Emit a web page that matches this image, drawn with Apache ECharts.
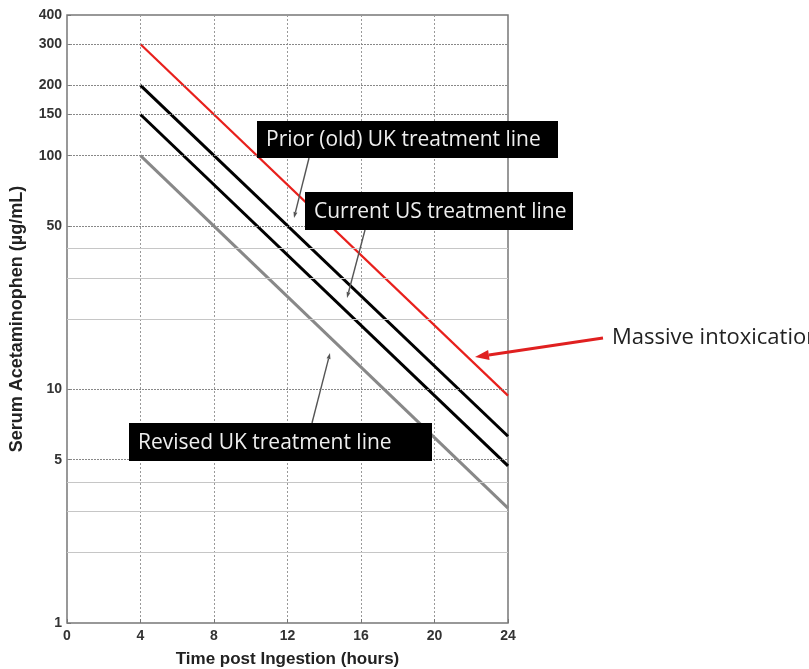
<!DOCTYPE html>
<html>
<head>
<meta charset="utf-8">
<script src="https://cdn.jsdelivr.net/npm/echarts@6/dist/echarts.min.js"></script>
<style>html,body{margin:0;padding:0;background:#fff;}#c{width:809px;height:669px;}</style>
</head>
<body>
<div id="c"></div>
<script>
// ---- data ----
const hours = [4, 24];
const massiveLine = [300, 9.4];
const priorUKLine = [200, 6.3];
const currentUSLine = [150, 4.7];
const revisedUKLine = [100, 3.1];
const yTickLabels = [1, 5, 10, 50, 100, 150, 200, 300, 400];
const minorGridValues = [2, 3, 4, 20, 30, 40];
const xTickLabels = [0, 4, 8, 12, 16, 20, 24];

const chart = echarts.init(document.getElementById('c'), null, {renderer: 'canvas'});

function pts(vals) { return hours.map((h, i) => [h, vals[i]]); }

function arrow(x1, y1, x2, y2, color, width, hl, hw) {
  const dx = x2 - x1, dy = y2 - y1, L = Math.sqrt(dx*dx + dy*dy);
  const ux = dx / L, uy = dy / L, px = -uy, py = ux;
  const bx = x2 - ux * hl, by = y2 - uy * hl;
  return [
    {type: 'line', shape: {x1: x1, y1: y1, x2: bx, y2: by}, style: {stroke: color, lineWidth: width}, z: 20},
    {type: 'polygon', shape: {points: [[x2, y2], [bx + px*hw/2, by + py*hw/2], [bx - px*hw/2, by - py*hw/2]]}, style: {fill: color}, z: 20}
  ];
}

function box(x, y, w, h, text) {
  return [
    {type: 'rect', shape: {x: x, y: y, width: w, height: h}, style: {fill: '#000'}, z: 30},
    {type: 'text', x: x + 9, y: y + h/2 + 1, style: {text: text, fill: '#eeeeee', font: '21px "Open Sans"', textVerticalAlign: 'middle'}, z: 31}
  ];
}

const gridLines = yTickLabels.filter(v => v > 1 && v < 400).map(v => ({
  yAxis: v, lineStyle: {color: '#888', type: [2, 1], width: 1.2}
})).concat(minorGridValues.map(v => ({
  yAxis: v, lineStyle: {color: '#c6c6c6', type: 'solid', width: 1}
})));

const graphics = []
  .concat(arrow(309, 158, 294, 218, '#555', 1.4, 6, 4))
  .concat(arrow(365, 230, 347, 298, '#555', 1.4, 6, 4))
  .concat(arrow(312, 423, 330, 353, '#555', 1.4, 6, 4))
  .concat(arrow(603, 338, 475, 357, '#e02020', 3, 14, 10))
  .concat(box(257, 121, 301, 37, 'Prior (old) UK treatment line'))
  .concat(box(305, 192, 268, 38, 'Current US treatment line'))
  .concat(box(129, 423, 303, 38, 'Revised UK treatment line'))
  .concat([{type: 'text', x: 612, y: 338, style: {text: 'Massive intoxication', fill: '#222', font: '22px "Open Sans"', textVerticalAlign: 'middle'}, z: 30}]);

chart.setOption({
  animation: false,
  backgroundColor: '#fff',
  grid: {left: 67, right: 301, top: 15, bottom: 46, outerBoundsMode: 'none', containLabel: false,
         show: true, borderColor: '#777', borderWidth: 1.5, backgroundColor: 'transparent'},
  xAxis: {
    type: 'value', min: 0, max: 24, interval: 4,
    name: 'Time post Ingestion (hours)', nameLocation: 'middle', nameGap: 28,
    nameTextStyle: {fontFamily: 'Liberation Sans', fontWeight: 'bold', fontSize: 17, color: '#222'},
    axisLine: {show: false},
    axisTick: {show: true, inside: true, length: 4, lineStyle: {color: '#777'}},
    axisLabel: {fontFamily: 'Liberation Sans', fontWeight: 'bold', fontSize: 14, color: '#333', margin: 6},
    splitLine: {show: true, lineStyle: {color: '#999', type: [2, 2], width: 1}}
  },
  yAxis: {
    type: 'log', logBase: 10, min: 1, max: 400,
    name: 'Serum Acetaminophen (µg/mL)', nameLocation: 'middle', nameGap: 41,
    nameTextStyle: {fontFamily: 'Liberation Sans', fontWeight: 'bold', fontSize: 18, color: '#222'},
    axisLine: {show: false},
    axisTick: {show: true, inside: true, length: 4, customValues: yTickLabels, lineStyle: {color: '#777'}},
    axisLabel: {customValues: yTickLabels, fontFamily: 'Liberation Sans', fontWeight: 'bold', fontSize: 14, color: '#333', margin: 5},
    splitLine: {show: false},
    minorTick: {show: false}
  },
  series: [
    {type: 'line', data: [], silent: true, z: 1,
     markLine: {silent: true, symbol: ['none', 'none'], label: {show: false}, animation: false, data: gridLines}},
    {name: 'Revised UK', type: 'line', data: pts(revisedUKLine), symbol: 'none', lineStyle: {color: '#888', width: 3}, z: 3},
    {name: 'Current US', type: 'line', data: pts(currentUSLine), symbol: 'none', lineStyle: {color: '#000', width: 3}, z: 3},
    {name: 'Prior UK', type: 'line', data: pts(priorUKLine), symbol: 'none', lineStyle: {color: '#000', width: 3}, z: 3},
    {name: 'Massive', type: 'line', data: pts(massiveLine), symbol: 'none', lineStyle: {color: '#e8201c', width: 2.2}, z: 4}
  ],
  graphic: graphics
});
</script>
</body>
</html>
